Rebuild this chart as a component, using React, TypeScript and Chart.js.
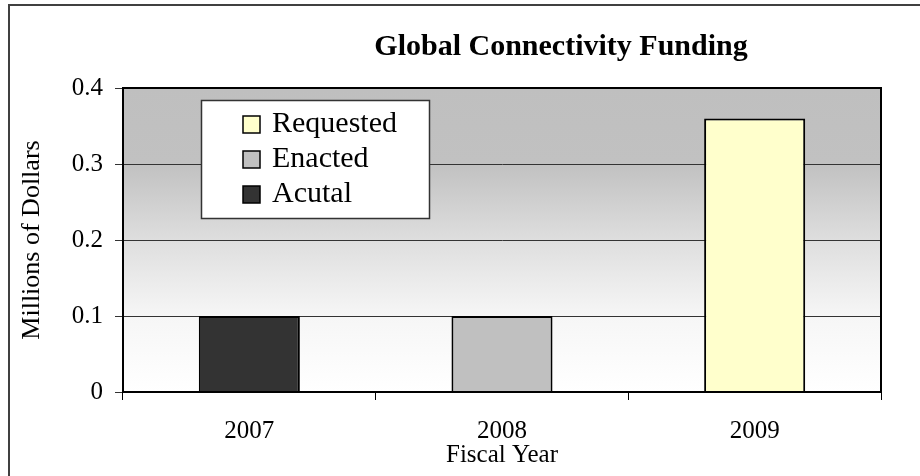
import React, { useEffect, useRef } from "react";
import { Chart, registerables } from "chart.js";

Chart.register(...registerables);

const categories = ["2007", "2008", "2009"];
const requestedValues = [null, null, 0.36];
const enactedValues = [null, 0.1, null];
const actualValues = [0.1, null, null];
const yTickValues = [0, 0.1, 0.2, 0.3, 0.4];
const seriesNames = ["Requested", "Enacted", "Acutal"];
const seriesColors = ["#ffffcc", "#c0c0c0", "#333333"];
const chartTitle = "Global Connectivity Funding";
const xAxisTitle = "Fiscal Year";
const yAxisTitle = "Millions of Dollars";

const FONT = '"Liberation Serif", "Times New Roman", serif';

const decorPlugin = {
  id: "decor",
  beforeDraw(chart: any) {
    const { ctx, chartArea: a, width, height } = chart;
    ctx.save();
    ctx.fillStyle = "#ffffff";
    ctx.fillRect(0, 0, width, height);
    const g = ctx.createLinearGradient(0, a.top, 0, a.bottom);
    g.addColorStop(0, "#bfbfbf");
    g.addColorStop(0.25, "#c1c1c1");
    g.addColorStop(0.5, "#dedede");
    g.addColorStop(0.75, "#f6f6f6");
    g.addColorStop(1, "#ffffff");
    ctx.fillStyle = g;
    ctx.fillRect(a.left, a.top, a.right - a.left, a.bottom - a.top);
    ctx.restore();
  },
  afterDraw(chart: any) {
    const { ctx, chartArea: a } = chart;
    ctx.save();
    // plot area frame
    ctx.strokeStyle = "#000000";
    ctx.lineWidth = 2;
    ctx.strokeRect(a.left, a.top, a.right - a.left, a.bottom - a.top);

    // legend box inside plot
    const bx = a.left + 78;
    const by = a.top + 12;
    const bw = 228;
    const bh = 118;
    ctx.fillStyle = "#ffffff";
    ctx.fillRect(bx, by, bw, bh);
    ctx.strokeStyle = "#333333";
    ctx.lineWidth = 1.5;
    ctx.strokeRect(bx + 0.5, by + 0.5, bw, bh);
    const ds = chart.data.datasets;
    ctx.font = `30px ${FONT}`;
    ctx.textBaseline = "middle";
    ctx.textAlign = "left";
    for (let i = 0; i < ds.length; i++) {
      const cy = by + 24 + i * 35;
      ctx.fillStyle = ds[i].backgroundColor;
      ctx.fillRect(bx + 42, cy - 8, 17, 17);
      ctx.strokeStyle = "#000000";
      ctx.lineWidth = 1.5;
      ctx.strokeRect(bx + 42, cy - 8, 17, 17);
      ctx.fillStyle = "#000000";
      ctx.fillText(ds[i].label, bx + 71, cy);
    }

    // title
    ctx.font = `bold 30px ${FONT}`;
    ctx.textAlign = "center";
    ctx.textBaseline = "alphabetic";
    ctx.fillStyle = "#000000";
    ctx.fillText(chartTitle, 561, 55);

    // outer frame
    ctx.strokeStyle = "#404040";
    ctx.lineWidth = 2;
    ctx.strokeRect(9, 5, 1200, 1200);
    ctx.restore();
  },
};

export default function App() {
  const ref = useRef<HTMLCanvasElement | null>(null);
  useEffect(() => {
    document.body.style.margin = "0";
    const canvas = ref.current;
    if (!canvas) return;
    const series = [requestedValues, enactedValues, actualValues];
    const chart = new Chart(canvas, {
      type: "bar",
      data: {
        labels: categories,
        datasets: series.map((vals, i) => ({
          label: seriesNames[i],
          data: vals,
          backgroundColor: seriesColors[i],
          borderColor: "#000000",
          borderWidth: 2,
          borderSkipped: "start",
          categoryPercentage: 1,
          barPercentage: 0.4,
          skipNull: true,
          grouped: true,
        })),
      },
      options: {
        responsive: false,
        animation: false,
        devicePixelRatio: 1,
        layout: { padding: { left: 0, right: 39, top: 88, bottom: 0 } },
        plugins: {
          legend: { display: false },
          title: { display: false },
          tooltip: { enabled: false },
        },
        scales: {
          x: {
            grid: {
              display: true,
              offset: true,
              drawOnChartArea: false,
              drawTicks: true,
              tickLength: 8,
              color: "#000000",
              lineWidth: 1,
            },
            border: { display: true, color: "#000000", width: 2 },
            ticks: {
              color: "#000000",
              padding: 16,
              font: { family: FONT, size: 25 },
            },
            title: {
              display: true,
              text: xAxisTitle,
              color: "#000000",
              padding: { top: 0, bottom: 6 },
              font: { family: FONT, size: 25 },
            },
            afterFit(scale: any) {
              scale.height = 84;
            },
          },
          y: {
            min: 0,
            max: 0.4,
            afterBuildTicks(scale: any) {
              scale.ticks = yTickValues.map((v) => ({ value: v }));
            },
            grid: {
              color: "#333333",
              lineWidth: 1,
              drawTicks: true,
              tickLength: 8,
            },
            border: { display: true, color: "#000000", width: 2 },
            ticks: {
              color: "#000000",
              padding: 12,
              font: { family: FONT, size: 25 },
              callback: (v: any) => String(v),
            },
            title: {
              display: true,
              text: yAxisTitle,
              color: "#000000",
              padding: { top: 17, bottom: 0 },
              font: { family: FONT, size: 26 },
            },
            afterFit(scale: any) {
              scale.width = 123;
            },
          },
        },
      },
      plugins: [decorPlugin],
    } as any);
    return () => chart.destroy();
  }, []);
  return <canvas ref={ref} width={920} height={476} style={{ display: "block" }} />;
}
